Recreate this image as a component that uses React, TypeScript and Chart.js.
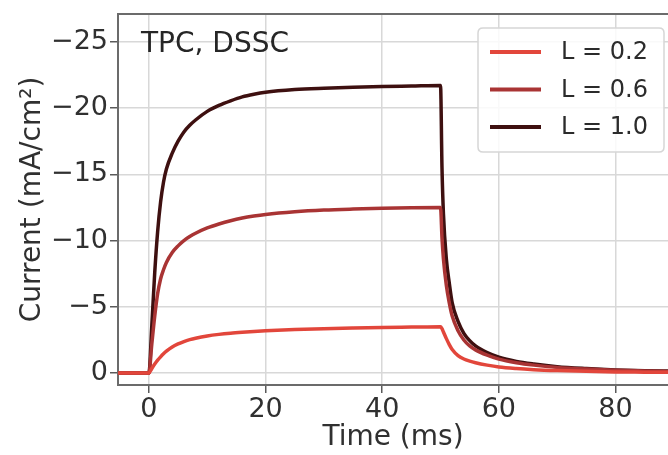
import React, { useEffect, useRef } from "react";
import { Chart, registerables } from "chart.js";

Chart.register(...registerables);

const timeMs = [-5.5, 0, 0.5, 1, 1.5, 2, 2.5, 3, 4, 5, 6, 7, 8, 10, 12, 14, 16, 18, 20, 25, 30, 35, 40, 45, 50, 50.25, 50.5, 51, 51.5, 52, 53, 54, 55, 56, 58, 60, 63, 66, 70, 75, 80, 85, 90];

const currentL02 = [0, 0, -0.35, -0.68, -0.97, -1.22, -1.45, -1.65, -1.97, -2.2, -2.38, -2.52, -2.63, -2.8, -2.92, -3.01, -3.08, -3.14, -3.19, -3.28, -3.35, -3.4, -3.44, -3.47, -3.5, -3.35, -3.1, -2.6, -2.15, -1.78, -1.32, -1.06, -0.9, -0.78, -0.6, -0.46, -0.34, -0.26, -0.19, -0.13, -0.09, -0.07, -0.05];
const currentL06 = [0, 0, -2.2, -4.3, -6.0, -7.1, -7.8, -8.35, -9.1, -9.6, -10.0, -10.3, -10.55, -10.95, -11.25, -11.5, -11.7, -11.85, -11.97, -12.17, -12.3, -12.38, -12.44, -12.48, -12.5, -10.2, -8.6, -6.6, -5.3, -4.3, -3.2, -2.5, -2.05, -1.75, -1.35, -1.05, -0.78, -0.6, -0.43, -0.3, -0.21, -0.16, -0.12];
const currentL10 = [0, 0, -3.6, -7.6, -10.7, -12.9, -14.4, -15.4, -16.6, -17.5, -18.2, -18.7, -19.1, -19.75, -20.2, -20.55, -20.85, -21.05, -21.2, -21.4, -21.5, -21.57, -21.62, -21.66, -21.7, -15.5, -12.0, -8.6, -6.8, -5.3, -3.9, -3.0, -2.45, -2.05, -1.55, -1.2, -0.88, -0.68, -0.48, -0.34, -0.24, -0.18, -0.14];

const seriesLabels = ["L = 0.2", "L = 0.6", "L = 1.0"];
const seriesColors = ["#e2463b", "#a93434", "#3e1010"];

const xTicks = [0, 20, 40, 60, 80];
const yTicks = [-25, -20, -15, -10, -5, 0];

const FONT = "'DejaVu Sans', sans-serif";

const fmt = (v: number) => (v < 0 ? "\u2212" + Math.abs(v) : String(v));

export default function App() {
  const ref = useRef<HTMLCanvasElement | null>(null);

  useEffect(() => {
    document.body.style.margin = "0";
    const canvas = ref.current;
    if (!canvas) return;

    const mk = (vals: number[]) => timeMs.map((t, i) => ({ x: t, y: vals[i] }));
    const allSeries = [currentL02, currentL06, currentL10];

    const framePlugin = {
      id: "frame",
      afterDraw(chart: any) {
        const { ctx, chartArea } = chart;
        ctx.save();
        ctx.strokeStyle = "#6b6b6b";
        ctx.lineWidth = 2;
        ctx.beginPath();
        ctx.moveTo(chartArea.left, chartArea.top);
        ctx.lineTo(chartArea.right, chartArea.top);
        ctx.stroke();
        // title text
        ctx.fillStyle = "#262626";
        ctx.font = `28px ${FONT}`;
        ctx.textBaseline = "middle";
        ctx.textAlign = "left";
        ctx.fillText("TPC, DSSC", 141, 45);
        // legend
        const bx = 478, by = 28, bw = 186, bh = 124, r = 5;
        ctx.beginPath();
        ctx.moveTo(bx + r, by);
        ctx.lineTo(bx + bw - r, by);
        ctx.quadraticCurveTo(bx + bw, by, bx + bw, by + r);
        ctx.lineTo(bx + bw, by + bh - r);
        ctx.quadraticCurveTo(bx + bw, by + bh, bx + bw - r, by + bh);
        ctx.lineTo(bx + r, by + bh);
        ctx.quadraticCurveTo(bx, by + bh, bx, by + bh - r);
        ctx.lineTo(bx, by + r);
        ctx.quadraticCurveTo(bx, by, bx + r, by);
        ctx.closePath();
        ctx.fillStyle = "rgba(255,255,255,0.85)";
        ctx.fill();
        ctx.strokeStyle = "#d6d6d6";
        ctx.lineWidth = 1.5;
        ctx.stroke();
        chart.data.datasets.forEach((ds: any, i: number) => {
          const y = 52 + i * 37.5;
          ctx.strokeStyle = ds.borderColor;
          ctx.lineWidth = 4;
          ctx.beginPath();
          ctx.moveTo(490, y);
          ctx.lineTo(541, y);
          ctx.stroke();
          ctx.fillStyle = "#2b2b2b";
          ctx.font = `24px ${FONT}`;
          ctx.fillText(ds.label, 561, y + 1);
        });
        ctx.restore();
      },
    };

    const chart = new Chart(canvas, {
      type: "line",
      data: {
        datasets: allSeries.map((vals, i) => ({
          label: seriesLabels[i],
          data: mk(vals),
          borderColor: seriesColors[i],
          backgroundColor: seriesColors[i],
          borderWidth: 3.5,
          pointRadius: 0,
          cubicInterpolationMode: "monotone" as const,
          fill: false,
        })),
      },
      options: {
        animation: false,
        responsive: false,
        maintainAspectRatio: false,
        layout: { padding: { top: 14, left: 0, right: 0, bottom: 0 } },
        plugins: {
          legend: { display: false },
          tooltip: { enabled: false },
        },
        scales: {
          x: {
            type: "linear",
            min: -5.3,
            max: 89,
            afterBuildTicks: (s: any) => {
              s.ticks = xTicks.map((v) => ({ value: v }));
            },
            afterFit: (s: any) => {
              s.height = 70;
              s.paddingLeft = 0;
              s.paddingRight = 0;
            },
            ticks: {
              includeBounds: false,
              autoSkip: false,
              maxRotation: 0,
              padding: 1,
              color: "#303030",
              font: { family: FONT, size: 27 },
              callback: (v: any) => fmt(Number(v)),
            },
            grid: {
              color: "#d8d8d8",
              lineWidth: 1.5,
              tickColor: "#5a5a5a",
              tickLength: 8,
              tickWidth: 1.5,
            },
            border: { color: "#6b6b6b", width: 2 },
            title: {
              display: true,
              text: "Time (ms)",
              color: "#303030",
              font: { family: FONT, size: 28 },
              padding: { top: 0, bottom: 0 },
            },
          },
          y: {
            type: "linear",
            reverse: true,
            min: -27.1,
            max: 0.9,
            afterBuildTicks: (s: any) => {
              s.ticks = yTicks.map((v) => ({ value: v }));
            },
            afterFit: (s: any) => {
              s.width = 118;
              s.paddingTop = 0;
              s.paddingBottom = 0;
            },
            ticks: {
              includeBounds: false,
              autoSkip: false,
              padding: 2,
              color: "#303030",
              font: { family: FONT, size: 27 },
              callback: (v: any) => fmt(Number(v)),
            },
            grid: {
              color: "#d8d8d8",
              lineWidth: 1.5,
              tickColor: "#5a5a5a",
              tickLength: 8,
              tickWidth: 1.5,
            },
            border: { color: "#6b6b6b", width: 2 },
            title: {
              display: true,
              text: "Current (mA/cm\u00b2)",
              color: "#303030",
              font: { family: FONT, size: 28 },
              padding: { top: 16, bottom: 0 },
            },
          },
        },
      },
      plugins: [framePlugin],
    });

    return () => chart.destroy();
  }, []);

  return (
    <div style={{ width: 668, height: 455 }}>
      <canvas ref={ref} width={668} height={455} />
    </div>
  );
}
